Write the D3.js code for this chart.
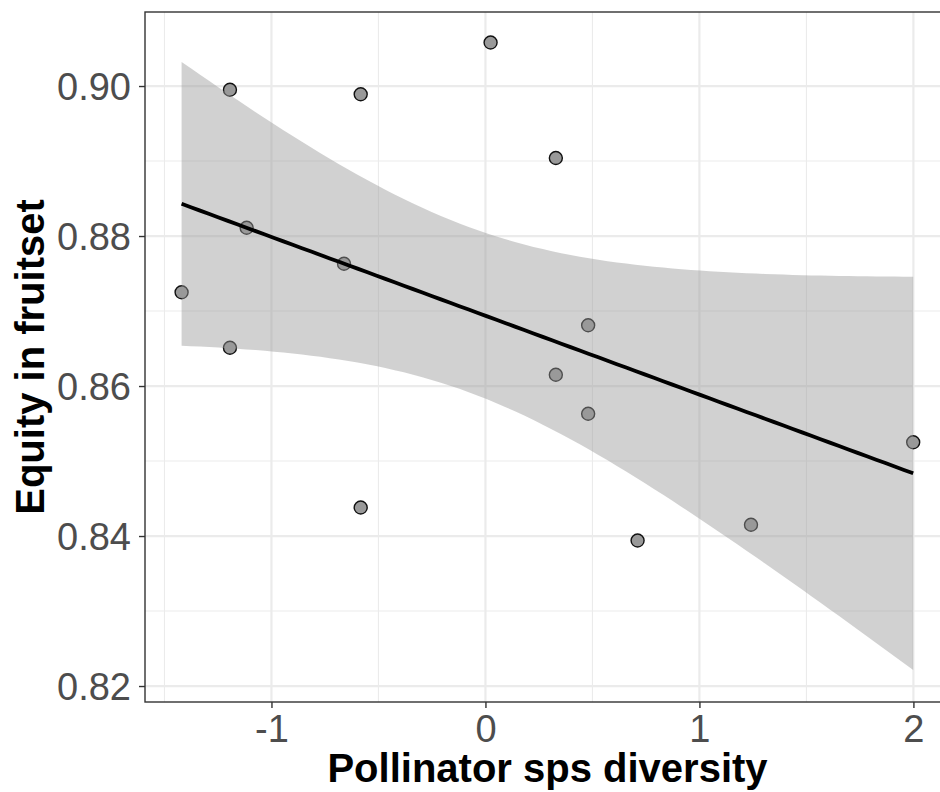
<!DOCTYPE html>
<html>
<head>
<meta charset="utf-8">
<script src="https://cdn.jsdelivr.net/npm/d3@7"></script>
<style>
  body { margin: 0; background: #fff; }
  text { font-family: "Liberation Sans", Arial, sans-serif; }
</style>
</head>
<body>
<div class="visHolder"></div>
<script>
// pollinator species diversity (standardised) vs equity in fruitset
var diversity = [-1.420, -1.194, -1.194, -1.116, -0.661, -0.583, -0.583, 0.024, 0.329, 0.329, 0.480, 0.480, 0.711, 1.241, 1.999];
var equity    = [0.8725, 0.8995, 0.8651, 0.8811, 0.8763, 0.8989, 0.8438, 0.9058, 0.8904, 0.8615, 0.8681, 0.8563, 0.8394, 0.8415, 0.8525];

var xTicks = [-1, 0, 1, 2];
var xMinor = [-1.5, -0.5, 0.5, 1.5];
var yTicks = [0.82, 0.84, 0.86, 0.88, 0.90];
var yMinor = [0.83, 0.85, 0.87, 0.89];

var xDomain = [-1.591, 2.171];
var yDomain = [0.81787, 0.90987];
var tCrit = 2.160; // t(0.975, df = 13)

var width = 940,
    height = 792,
    panelLeft = 145,
    panelRight = 950,
    panelTop = 12,
    panelBottom = 702;

var svg = d3.select(".visHolder")
            .append("svg")
            .attr("width", width)
            .attr("height", height);

var xScale = d3.scaleLinear().domain(xDomain).range([panelLeft, panelRight]);
var yScale = d3.scaleLinear().domain(yDomain).range([panelBottom, panelTop]);

svg.append("clipPath")
   .attr("id", "panel")
   .append("rect")
   .attr("x", panelLeft).attr("y", panelTop)
   .attr("width", panelRight - panelLeft).attr("height", panelBottom - panelTop);

var panel = svg.append("g").attr("clip-path", "url(#panel)");

// grid
panel.selectAll(".vminor").data(xMinor).enter().append("line")
     .attr("x1", function (d) { return xScale(d); })
     .attr("x2", function (d) { return xScale(d); })
     .attr("y1", panelTop).attr("y2", panelBottom)
     .style("stroke", "#ebebeb").style("stroke-width", 1.1);
panel.selectAll(".hminor").data(yMinor).enter().append("line")
     .attr("y1", function (d) { return yScale(d); })
     .attr("y2", function (d) { return yScale(d); })
     .attr("x1", panelLeft).attr("x2", panelRight)
     .style("stroke", "#ebebeb").style("stroke-width", 1.1);
panel.selectAll(".vmajor").data(xTicks).enter().append("line")
     .attr("x1", function (d) { return xScale(d); })
     .attr("x2", function (d) { return xScale(d); })
     .attr("y1", panelTop).attr("y2", panelBottom)
     .style("stroke", "#ebebeb").style("stroke-width", 2.2);
panel.selectAll(".hmajor").data(yTicks).enter().append("line")
     .attr("y1", function (d) { return yScale(d); })
     .attr("y2", function (d) { return yScale(d); })
     .attr("x1", panelLeft).attr("x2", panelRight)
     .style("stroke", "#ebebeb").style("stroke-width", 2.2);

// points
panel.selectAll("circle")
     .data(diversity)
     .enter()
     .append("circle")
     .attr("cx", function (d) { return xScale(d); })
     .attr("cy", function (d, i) { return yScale(equity[i]); })
     .attr("r", 6.5)
     .style("fill", "#999999")
     .style("stroke", "#111")
     .style("stroke-width", 1.4);

// linear fit with 95% confidence band
var n = diversity.length;
var mx = d3.mean(diversity), my = d3.mean(equity);
var sxx = d3.sum(diversity, function (d) { return (d - mx) * (d - mx); });
var sxy = d3.sum(diversity, function (d, i) { return (d - mx) * (equity[i] - my); });
var slope = sxy / sxx;
var intercept = my - slope * mx;
var sse = d3.sum(diversity, function (d, i) {
  var r = equity[i] - (intercept + slope * d);
  return r * r;
});
var s = Math.sqrt(sse / (n - 2));

var xs = d3.range(80).map(function (i) {
  return d3.min(diversity) + i * (d3.max(diversity) - d3.min(diversity)) / 79;
});
var fit = xs.map(function (x) {
  var yhat = intercept + slope * x;
  var se = s * Math.sqrt(1 / n + (x - mx) * (x - mx) / sxx);
  return { x: x, y: yhat, lo: yhat - tCrit * se, hi: yhat + tCrit * se };
});

panel.append("path")
     .datum(fit)
     .attr("d", d3.area()
       .x(function (d) { return xScale(d.x); })
       .y0(function (d) { return yScale(d.lo); })
       .y1(function (d) { return yScale(d.hi); }))
     .style("fill", "#999999")
     .style("fill-opacity", 0.45);

panel.append("path")
     .datum(fit)
     .attr("d", d3.line()
       .x(function (d) { return xScale(d.x); })
       .y(function (d) { return yScale(d.y); }))
     .style("fill", "none")
     .style("stroke", "#000")
     .style("stroke-width", 3.8);

// border
svg.append("rect")
   .attr("x", panelLeft).attr("y", panelTop)
   .attr("width", panelRight - panelLeft).attr("height", panelBottom - panelTop)
   .style("fill", "none")
   .style("stroke", "#333")
   .style("stroke-width", 1.4);

// axes
var xAxis = d3.axisBottom(xScale)
              .tickValues(xTicks)
              .tickSize(6)
              .tickPadding(7)
              .tickFormat(function (d) { return String(d); });
var gx = svg.append("g")
            .attr("transform", "translate(0," + panelBottom + ")")
            .call(xAxis);

var yAxis = d3.axisLeft(yScale)
              .tickValues(yTicks)
              .tickSize(6)
              .tickPadding(8)
              .tickFormat(d3.format(".2f"));
var gy = svg.append("g")
            .attr("transform", "translate(" + panelLeft + ",0)")
            .call(yAxis);

[gx, gy].forEach(function (g) {
  g.select(".domain").remove();
  g.selectAll(".tick line").style("stroke", "#333").style("stroke-width", 1.4);
  g.selectAll(".tick text")
   .style("font-family", '"Liberation Sans", Arial, sans-serif')
   .style("font-size", "38px")
   .style("fill", "#4d4d4d");
});
gy.selectAll(".tick text").attr("dy", "0.36em");
gx.selectAll(".tick text").attr("dy", "0.71em");

svg.append("text")
   .attr("x", (panelLeft + panelRight) / 2)
   .attr("y", 782)
   .attr("text-anchor", "middle")
   .style("font-size", "40px")
   .style("font-weight", "bold")
   .style("fill", "#000")
   .text("Pollinator sps diversity");

svg.append("text")
   .attr("transform", "translate(44," + (panelTop + panelBottom) / 2 + ") rotate(-90)")
   .attr("text-anchor", "middle")
   .style("font-size", "40px")
   .style("font-weight", "bold")
   .style("fill", "#000")
   .text("Equity in fruitset");
</script>
</body>
</html>
